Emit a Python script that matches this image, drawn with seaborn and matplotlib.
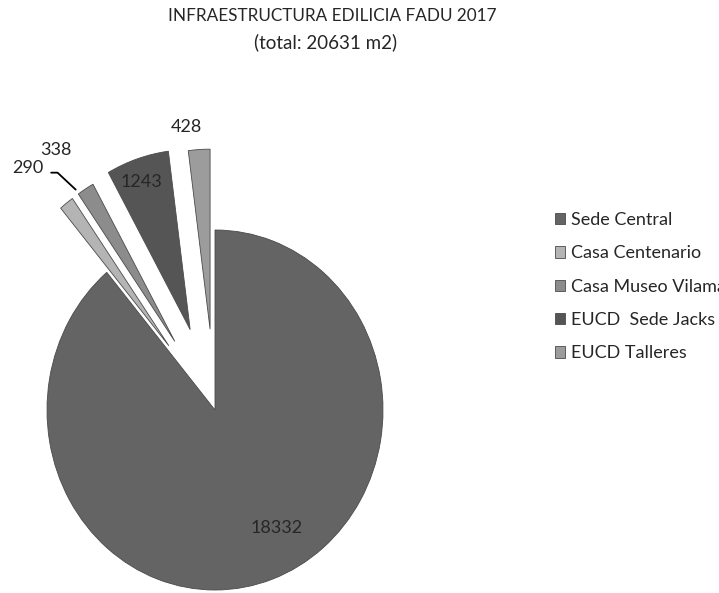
import numpy as np
import matplotlib
matplotlib.use("Agg")
import matplotlib.pyplot as plt
import seaborn as sns

# data
sites = ['Sede Central', 'Casa Centenario', 'Casa Museo Vilamajó',
         'EUCD  Sede Jacks', 'EUCD Talleres']
areas = [18332, 290, 338, 1243, 428]
greys = ['#646464', '#b4b4b4', '#8c8c8c', '#555555', '#9c9c9c']
explode = [0.0, 0.45, 0.45, 0.47, 0.45]

# label placement: (distance from wedge centre, angle tweak in degrees)
label_pos = [(0.75, 9.4), (1.296, 2.7), (1.279, 1.6), (0.87, 1.0), (1.131, 3.3)]

sns.set_theme(style="white")
plt.rcParams['font.family'] = ['Lato', 'DejaVu Sans']

W, H = 719, 593
fig = plt.figure(figsize=(W / 100, H / 100), dpi=100)
ax = fig.add_axes([0, 0, 1, 1])

wedges, _ = ax.pie(areas, colors=greys, explode=explode, startangle=90,
                   counterclock=False,
                   wedgeprops=dict(edgecolor='#4a4a4a', linewidth=0.6))

# pie centre at (215, 410) px, radius 168 px wide x 180 px tall
cx, cy, rx, ry = 215, 410, 168, 180
ax.set_aspect('auto')
ax.set_xlim(-cx / rx, (W - cx) / rx)
ax.set_ylim(-(H - cy) / ry, cy / ry)
ax.axis('off')

for i, (w, v) in enumerate(zip(wedges, areas)):
    d, da = label_pos[i]
    mid = (w.theta1 + w.theta2) / 2
    ang = np.deg2rad(mid + da)
    x = w.center[0] + d * np.cos(ang)
    y = w.center[1] + d * np.sin(ang)
    if v == 290:
        # leader line from the label to the edge of the thin slice
        ea = np.deg2rad(mid - 5)
        edge = (w.center[0] + 1.03 * np.cos(ea), w.center[1] + 1.03 * np.sin(ea))
        ax.annotate(str(v), xy=edge, xytext=(x, y), ha='center', va='center',
                    fontsize=13,
                    arrowprops=dict(arrowstyle='-', color='black', lw=1.3,
                                    shrinkA=3, shrinkB=0, relpos=(1.0, 0.2),
                                    connectionstyle='angle,angleA=0,angleB=-43,rad=0'))
    else:
        ax.text(x, y, str(v), ha='center', va='center', fontsize=13)

fig.text(332 / W, 1 - 16 / H, 'INFRAESTRUCTURA EDILICIA FADU 2017',
         ha='center', va='center', fontsize=12.3)
fig.text(326 / W, 1 - 42 / H, '(total: 20631 m2)',
         ha='center', va='center', fontsize=13.5)

# legend runs off the right edge, as in the original
fig.legend(wedges, sites, loc='upper left',
           bbox_to_anchor=(555 / W, 1 - 212 / H), frameon=False,
           fontsize=13, handlelength=0.58, handleheight=0.58,
           handletextpad=0.3, labelspacing=0.96,
           borderpad=0, borderaxespad=0)

fig.savefig('out.png', dpi=100)
